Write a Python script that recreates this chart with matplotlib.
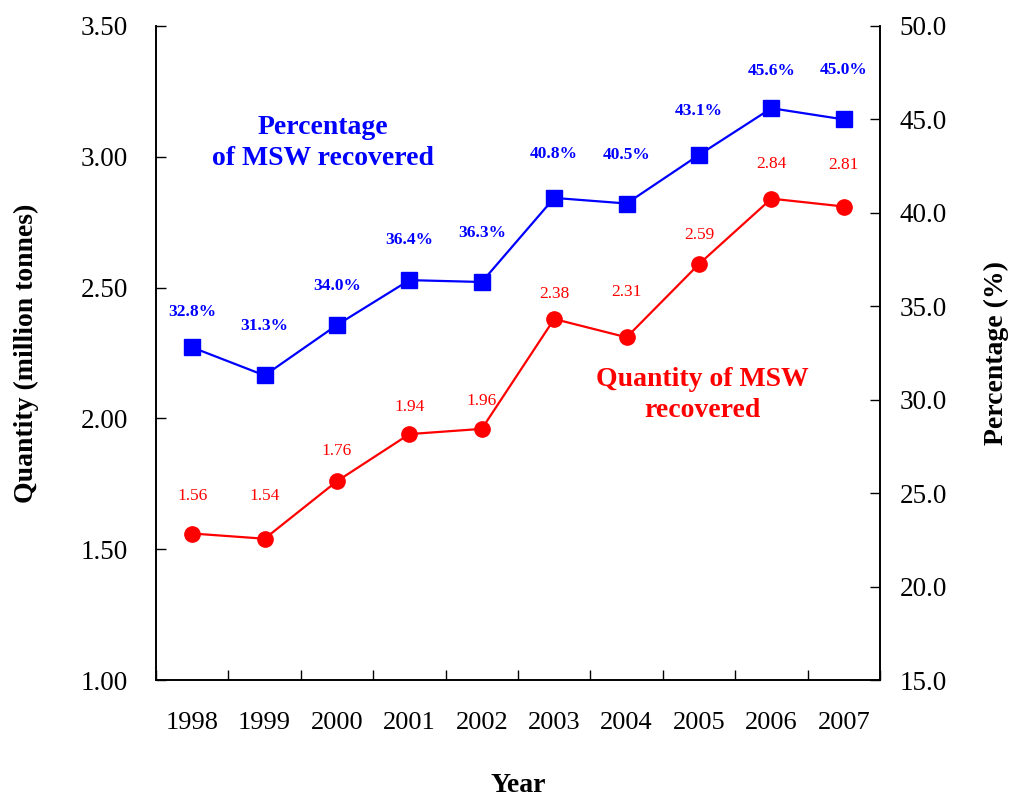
import numpy as np
import matplotlib.pyplot as plt

# data
years = ['1998', '1999', '2000', '2001', '2002', '2003', '2004', '2005', '2006', '2007']
quantity = [1.56, 1.54, 1.76, 1.94, 1.96, 2.38, 2.31, 2.59, 2.84, 2.81]
percentage = [32.8, 31.3, 34.0, 36.4, 36.3, 40.8, 40.5, 43.1, 45.6, 45.0]

# label offsets above points (pixels), hand placed like the original
pct_off = [35, 49, 39, 40, 49, 44, 49, 44, 37, 49]
qty_off = [38, 43, 30, 27, 28, 25, 45, 29, 35, 42]

plt.rcParams['font.family'] = ['Liberation Serif', 'DejaVu Serif']

fig = plt.figure(figsize=(10.12, 7.98), dpi=100)
ax1 = fig.add_axes([156/1012, 1 - 680/798, 724/1012, 654/798])
ax2 = ax1.twinx()

x = np.arange(len(years))
ax1.plot(x, quantity, color='#ff0000', lw=1.6, marker='o', ms=11, zorder=3)
ax2.plot(x, percentage, color='#0000ff', lw=1.6, marker='s', ms=11, zorder=3)

for i in range(len(x)):
    ax1.annotate(f'{quantity[i]:.2f}', (x[i], quantity[i]), xytext=(0, qty_off[i] * 0.72),
                 textcoords='offset points', ha='center', va='center',
                 color='#ff0000', fontsize=12.5)
    ax2.annotate(f'{percentage[i]:.1f}%', (x[i], percentage[i]), xytext=(0, pct_off[i] * 0.72),
                 textcoords='offset points', ha='center', va='center',
                 color='#0000ff', fontsize=12.5, fontweight='bold')

ax1.set_xlim(-0.5, len(years) - 0.5)
ax1.set_ylim(1.0, 3.5)
ax2.set_ylim(15.0, 50.0)
ax1.set_yticks(np.arange(1.0, 3.51, 0.5))
ax1.set_yticklabels([f'{v:.2f}' for v in np.arange(1.0, 3.51, 0.5)])
ax2.set_yticks(np.arange(15.0, 50.1, 5.0))
ax2.set_yticklabels([f'{v:.1f}' for v in np.arange(15.0, 50.1, 5.0)])

ax1.set_xticks(x)
ax1.set_xticklabels(years)
ax1.set_xticks(np.arange(-0.5, len(years), 1.0), minor=True)
ax1.tick_params(axis='x', which='major', length=0, labelsize=19, pad=23)
ax1.tick_params(axis='x', which='minor', direction='in', length=7, width=1)
ax1.tick_params(axis='y', direction='in', length=7, width=1, labelsize=19.5, pad=20)
ax2.tick_params(axis='y', direction='in', length=7, width=1, labelsize=19.5, pad=14)

for ax in (ax1, ax2):
    ax.spines['top'].set_visible(False)
    for s in ('left', 'right', 'bottom'):
        ax.spines[s].set_linewidth(1.2)

ax1.set_ylabel('Quantity (million tonnes)', fontsize=20, fontweight='bold', labelpad=30)
ax2.set_ylabel('Percentage (%)', fontsize=20, fontweight='bold', labelpad=27)
ax1.set_xlabel('Year', fontsize=20, fontweight='bold', labelpad=28)

fig.text(323/1012, 1 - 143/798, 'Percentage\nof MSW recovered', color='#0000ff',
         fontsize=20, fontweight='bold', ha='center', va='center', linespacing=1.3)
fig.text(702/1012, 1 - 395/798, 'Quantity of MSW\nrecovered', color='#ff0000',
         fontsize=20, fontweight='bold', ha='center', va='center', linespacing=1.3)

fig.savefig('out.png', dpi=100)
